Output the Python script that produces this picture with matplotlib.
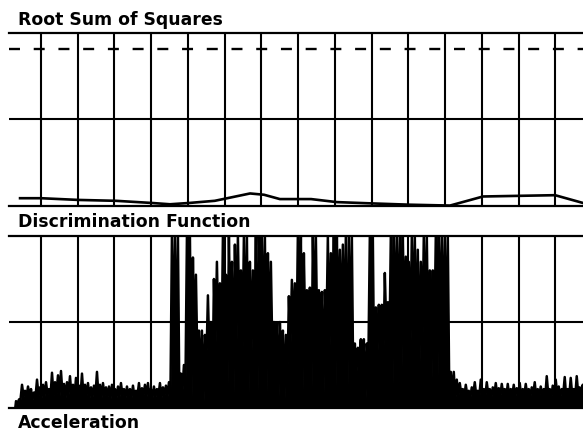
import matplotlib
matplotlib.use("Agg")
import matplotlib.pyplot as plt
import numpy as np

# ---------------- data ----------------
# vertical grid positions (time units)
grid_t = list(range(1, 16))
x_min, x_max = 0.129, 15.75

# top panel: root sum of squares
rss_t = [0.43, 1.0, 2.03, 3.04, 4.02, 4.51, 5.03, 5.73, 6.69, 7.07, 7.5,
         8.35, 9.05, 10.0, 11.04, 12.13, 13.03, 14.99, 15.75]
rss_v = [0.09, 0.09, 0.07, 0.06, 0.035, 0.02, 0.035, 0.06, 0.145, 0.13, 0.08,
         0.08, 0.045, 0.03, 0.015, 0.005, 0.11, 0.125, 0.035]
threshold = 1.815

# bottom panel: discrimination function (peaks and troughs of the trace)
sig_t0 = 0.32
sig_dt = 0.0816
sig_peaks = [
    0.08, 0.10, 0.27, 0.20, 0.25, 0.22, 0.18, 0.33, 0.24, 0.27,
    0.30, 0.22, 0.41, 0.30, 0.38, 0.43, 0.28, 0.30, 0.37, 0.27,
    0.35, 0.26, 0.40, 0.27, 0.29, 0.24, 0.26, 0.42, 0.27, 0.29,
    0.24, 0.25, 0.27, 0.22, 0.25, 0.29, 0.22, 0.25, 0.22, 0.26,
    0.20, 0.29, 0.23, 0.27, 0.29, 0.22, 0.25, 0.22, 0.29, 0.24,
    0.26, 0.30,
    2.0, 2.0, 2.0, 0.4, 0.5, 2.0, 2.0, 1.75, 1.55, 0.9,
    0.9, 0.85, 1.31, 1.0, 1.5, 1.7, 1.45, 2.0, 1.55, 2.0,
    1.7, 1.9, 2.0, 1.6, 2.0, 2.0, 1.7, 1.6, 2.0, 2.0,
    2.0, 2.0, 1.8, 1.7, 1.0, 0.99, 1.0, 0.9, 0.85, 1.3,
    1.49, 1.45, 2.0, 2.0, 1.8, 1.37, 1.4, 2.0, 2.0, 1.37,
    1.35, 1.37, 2.0, 1.8, 2.0, 2.0, 1.84, 1.9, 2.0, 2.0,
    2.0, 0.75, 0.7, 0.8, 0.8, 0.75, 2.0, 2.0, 1.17, 1.2,
    1.2, 1.57, 1.23, 2.0, 2.0, 2.0, 2.0, 2.0, 1.76, 1.7,
    2.0, 2.0, 1.84, 1.7, 2.0, 2.0, 1.6, 1.6, 2.0, 2.0,
    2.0, 2.0, 2.0,
    0.42, 0.42, 0.33, 0.29, 0.22, 0.27, 0.20, 0.24, 0.30, 0.20,
    0.33, 0.22, 0.30, 0.22, 0.24, 0.29, 0.23, 0.28, 0.22, 0.28,
    0.22, 0.27, 0.23, 0.29, 0.22, 0.28, 0.22, 0.24, 0.30, 0.22,
    0.25, 0.22, 0.37, 0.22, 0.26, 0.33, 0.25, 0.22, 0.36, 0.22,
    0.35, 0.22, 0.37, 0.24, 0.27,
]
sig_troughs = [
    0.05, 0.10, 0.14, 0.12, 0.15, 0.10, 0.13, 0.15, 0.12, 0.14,
    0.16, 0.13, 0.15, 0.17, 0.14, 0.15, 0.12, 0.16, 0.14, 0.12,
    0.15, 0.13, 0.14, 0.15, 0.12, 0.13, 0.15, 0.14, 0.12, 0.15,
    0.13, 0.11, 0.14, 0.12, 0.13, 0.15, 0.12, 0.14, 0.12, 0.13,
    0.14, 0.12, 0.15, 0.13, 0.14, 0.12, 0.13, 0.14, 0.12, 0.15,
    0.13, 0.14,
    0.6, 0.3, 0.03, 0.2, 0.25, 0.5, 0.03, 0.7, 0.5, 0.3,
    0.03, 0.55, 0.6, 0.04, 0.7, 0.8, 0.5, 0.7, 0.15, 0.8,
    0.04, 0.7, 0.9, 0.6, 0.5, 0.05, 0.6, 0.7, 0.04, 0.8,
    0.6, 0.05, 0.7, 0.6, 0.4, 0.05, 0.5, 0.05, 0.3, 0.7,
    0.8, 0.6, 0.7, 0.04, 0.8, 0.5, 0.05, 0.9, 0.7, 0.6,
    0.05, 0.8, 0.6, 0.7, 0.05, 0.9, 0.7, 0.6, 0.05, 0.5,
    0.17, 0.4, 0.6, 0.3, 0.03, 0.5, 0.7, 0.08, 0.6, 0.8,
    0.5, 0.9, 0.6, 0.03, 0.8, 0.7, 0.25, 0.9, 0.7, 0.6,
    0.8, 0.5, 0.36, 0.7, 0.8, 0.6, 0.15, 0.7, 0.1, 0.8,
    0.6, 0.5, 0.15,
    0.15, 0.10, 0.14, 0.16, 0.13, 0.15, 0.12, 0.16, 0.14, 0.13,
    0.15, 0.13, 0.16, 0.12, 0.14, 0.15, 0.13, 0.16, 0.12, 0.14,
    0.15, 0.13, 0.16, 0.12, 0.14, 0.15, 0.13, 0.16, 0.12, 0.14,
    0.15, 0.13, 0.16, 0.12, 0.14, 0.15, 0.13, 0.16, 0.12, 0.14,
    0.15, 0.13, 0.16, 0.12, 0.14,
]

titles = ["Root Sum of Squares", "Discrimination Function", "Acceleration"]

# ---------------- figure ----------------
plt.rcParams['lines.scale_dashes'] = False
fig = plt.figure(figsize=(5.83, 4.33), dpi=100)
W, H = 583.0, 433.0

def frac_x(px):
    return px / W

def frac_y(py):
    return 1 - py / H

left = frac_x(9)
ax1 = fig.add_axes([left, frac_y(206), 1.0 - left, frac_y(33) - frac_y(206)])
ax2 = fig.add_axes([left, frac_y(408), 1.0 - left, frac_y(236) - frac_y(408)])

for ax in (ax1, ax2):
    ax.set_xlim(x_min, x_max)
    ax.set_ylim(0, 2)
    ax.set_xticks(grid_t)
    ax.set_yticks([1])
    ax.tick_params(length=0, labelbottom=False, labelleft=False)
    ax.grid(True, color='black', linewidth=1.5)
    ax.set_axisbelow(True)
    for s in ('left', 'right'):
        ax.spines[s].set_visible(False)
    for s in ('top', 'bottom'):
        ax.spines[s].set_linewidth(1.6)
        ax.spines[s].set_color('black')

# top panel
ax1.plot(rss_t, rss_v, color='black', linewidth=1.9, solid_joinstyle='round')
ax1.axhline(threshold, color='black', linewidth=1.7, dashes=(7.9, 9.9))

# bottom panel: interleave peaks and troughs
n = len(sig_peaks)
pk_t = sig_t0 + sig_dt * np.arange(n)
tr_t = pk_t + sig_dt / 2
zz_t = np.empty(2 * n + 1)
zz_v = np.empty(2 * n + 1)
zz_t[0] = sig_t0 - sig_dt / 4
zz_v[0] = 0.0
zz_t[1::2] = pk_t
zz_v[1::2] = sig_peaks
zz_t[2::2] = tr_t
zz_v[2::2] = sig_troughs
zz_v = np.clip(zz_v, 0, 2.05)
ax2.fill_between(zz_t, 0, zz_v, color='black', linewidth=0)
ax2.plot(zz_t, zz_v, color='black', linewidth=1.8)

# titles
font = dict(family='DejaVu Sans', fontweight='bold', fontsize=12.4, color='black')
fig.text(frac_x(18), frac_y(25), titles[0], va='baseline', ha='left', **font)
fig.text(frac_x(18), frac_y(227), titles[1], va='baseline', ha='left', **font)
fig.text(frac_x(18), frac_y(428), titles[2], va='baseline', ha='left', **font)

fig.savefig('out.png', dpi=100, facecolor='white')
